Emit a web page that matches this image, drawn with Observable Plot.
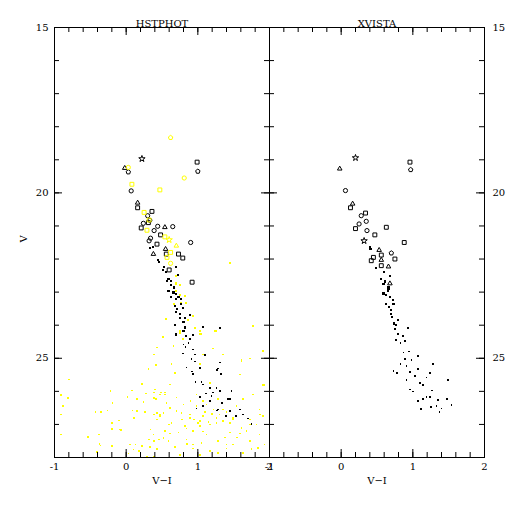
<!DOCTYPE html>
<html>
<head>
<meta charset="utf-8">
<script src="https://cdn.jsdelivr.net/npm/d3@7"></script>
<script src="https://cdn.jsdelivr.net/npm/@observablehq/plot@0.6"></script>
<style>
  body { margin: 0; background: white; }
  #wrap { position: relative; width: 512px; height: 512px; overflow: hidden; background: white; }
  #left, #right { position: absolute; top: 0; }
  #left { left: 0; }
  #right { left: 268px; }
</style>
</head>
<body>
<div id="wrap"><div id="left"></div><div id="right"></div></div>
<script>
// ---- data: [V-I, V, shape] (o circle, s square, t triangle, * star, p pentagon)
const panelTitles = ["HSTPHOT", "XVISTA"];
const xLabel = "V−I";
const yLabel = "V";
const xTickLabels = [-1, 0, 1, 2];
const yTickLabels = [15, 20, 25];

const hstBlackSymbols = [
  [0.22,18.97,"*"],[0.99,19.07,"s"],[1.00,19.35,"p"],[-0.02,19.25,"t"],[0.03,19.37,"p"],
  [0.07,19.94,"o"],[0.16,20.30,"t"],[0.16,20.45,"s"],[0.36,20.56,"s"],[0.30,20.69,"o"],
  [0.33,20.83,"o"],[0.24,20.92,"o"],[0.31,20.90,"s"],[0.21,21.06,"s"],[0.44,21.01,"o"],
  [0.54,21.04,"t"],[0.65,21.02,"o"],[0.39,21.14,"o"],[0.34,21.37,"o"],[0.32,21.45,"o"],
  [0.48,21.27,"s"],[0.90,21.50,"o"],[0.55,21.70,"t"],[0.43,21.55,"s"],[0.38,21.85,"t"],
  [0.56,21.85,"s"],[0.73,21.85,"s"],[0.79,21.97,"s"],[0.60,22.33,"s"],[0.92,22.70,"s"]
];
const hstYellowSymbols = [
  [0.62,18.33,"p"],[0.03,19.23,"o"],[0.81,19.55,"o"],[0.08,19.74,"s"],[0.47,19.91,"s"],
  [0.25,20.59,"s"],[0.32,20.82,"s"],[0.29,21.13,"s"],[0.54,21.33,"s"],[0.60,21.42,"*"],
  [0.70,21.60,"t"],[0.62,21.80,"s"],[0.57,21.95,"s"],[0.62,22.13,"o"]
];
const hstBlackDots = [
  [0.33,21.67],[0.37,21.63],[0.45,22.03],[0.46,22.10],[0.53,22.23],[0.69,22.23],[0.52,22.33],
  [0.56,22.40],[0.72,22.48],[0.59,22.61],[0.57,22.66],[0.63,22.66],[0.62,22.78],[0.67,22.86],
  [0.66,23.01],[0.70,23.06],[0.59,22.96],[0.62,23.16],[0.73,23.14],[0.76,23.21],[0.69,23.21],
  [0.68,23.42],[0.79,23.47],[0.77,23.36],[0.71,23.52],[0.70,23.59],[0.75,23.67],[0.89,23.70],
  [0.82,23.77],[0.75,23.79],[0.80,23.90],[0.68,24.00],[0.82,24.07],[0.80,24.17],[0.69,24.28],
  [0.84,24.32],[1.07,24.06],[1.31,24.09],[0.89,24.42],[0.93,24.29],[0.87,24.53],[0.80,24.58],
  [0.83,24.66],[0.93,24.73],[0.79,24.85],[0.96,24.88],[1.10,24.90],[0.91,25.02],[0.96,25.10],
  [0.84,25.28],[1.03,25.30],[1.31,25.13],[0.92,25.40],[0.93,25.47],[1.27,25.36],[1.32,25.47],
  [1.28,25.31],[0.97,25.71],[1.05,25.71],[1.07,25.79],[1.17,25.89],[1.26,25.89],[1.31,25.99],
  [1.21,26.04],[1.11,26.07],[1.47,25.99],[1.19,26.14],[1.03,26.17],[1.42,26.24],[1.45,26.24],
  [1.17,26.29],[1.07,26.45],[1.34,26.35],[0.98,26.52],[1.28,26.55],[1.27,26.58],[1.45,26.60],
  [1.59,26.55],[1.39,26.75],[1.53,26.75],[1.63,26.70],[1.70,26.82],[1.75,26.98]
];
const hstYellowDots = [
  [0.69,22.51],[0.69,22.74],[0.75,22.78],[0.70,22.96],[0.75,23.08],[0.82,23.11],[0.67,23.35],
  [0.77,23.32],[0.83,23.32],[0.79,23.47],[0.93,23.72],[0.56,23.80],[0.86,23.85],[0.75,24.19],
  [0.96,24.09],[1.03,24.17],[1.25,24.17],[0.51,24.35],[0.79,24.42],[1.05,24.27],[1.45,22.13],
  [1.77,24.02],[1.91,24.78],[1.91,25.81],[0.39,24.88],[0.31,25.33],[0.22,25.77],
  [0.43,24.68],[0.42,25.20],[-0.80,25.64],[-0.91,26.11],[-0.81,26.21],[-0.22,25.99],[0.08,25.97],
  [0.28,26.07],[0.39,26.04],[0.02,26.17],[0.15,26.24],[0.39,26.21],[0.47,26.09],[-0.19,26.36],
  [0.24,26.32],[-0.88,26.45],[-0.43,26.62],[-0.26,26.58],[0.09,26.58],[0.15,26.60],[0.26,26.62],
  [0.43,26.65],[-0.91,26.70],[-0.35,26.63],[0.11,26.80],[0.39,26.70],[0.47,26.75],[0.43,26.85],
  [-0.20,26.96],[-0.10,26.88],[-0.07,27.17],[-0.20,27.13],[-0.91,27.30],[-0.38,27.30],[-0.53,27.38],
  [0.34,27.15],[0.38,27.30],[0.32,27.45],[0.39,27.51],[0.46,27.45],[-0.36,27.64],[-0.20,27.66],
  [0.05,27.61],[0.13,27.61],[0.22,27.66],[0.33,27.68],[0.43,27.74],[0.10,27.76],[0.18,27.81],
  [-0.41,27.84],[0.29,27.98],[0.39,27.98],[0.03,27.88],
  [0.75,24.22],[1.03,24.27],[0.66,24.63],[1.21,24.70],[1.35,24.88],[0.63,25.18],[1.03,25.18],
  [1.61,25.06],[1.73,25.01],[0.68,25.44],[1.59,25.49],[1.17,25.74],[0.61,25.79],[1.93,25.79],
  [0.49,26.04],[0.54,26.04],[0.70,26.19],[0.98,26.09],[1.07,26.29],[1.28,26.24],[1.63,26.24],
  [1.77,26.09],[0.56,26.35],[0.80,26.40],[0.98,26.45],[1.54,26.45],[1.86,26.55],[0.52,26.65],
  [0.70,26.60],[0.89,26.70],[1.07,26.75],[1.26,26.80],[1.35,26.90],[1.49,26.80],[1.73,26.85],
  [1.91,26.75],[0.63,26.95],[0.82,27.05],[1.03,27.05],[1.17,27.00],[1.61,27.10],[1.82,27.00],
  [0.54,27.20],[0.73,27.25],[0.93,27.20],[1.12,27.30],[1.45,27.25],[1.68,27.20],[1.86,27.30],
  [0.59,27.51],[0.84,27.45],[1.05,27.56],[1.28,27.51],[1.49,27.61],[1.73,27.51],[1.93,27.61],
  [0.68,27.68],[0.93,27.73],[1.17,27.81],[1.40,27.73],[1.63,27.86],[1.84,27.71],[0.75,27.92],
  [1.03,27.93],[1.28,27.86],[1.10,26.62],[1.20,26.68],[1.30,26.70],[1.40,26.62],[1.15,26.92],
  [1.22,26.55],[1.45,26.95],[0.95,26.85],[1.00,26.95],[1.38,27.40],[0.85,27.60],[0.60,27.00],
  [0.78,26.85],[-0.09,27.15],[-0.37,27.60],
  [0.40,25.94],[0.42,26.24],[0.54,26.09],[0.61,26.50],[0.47,26.70],[0.77,26.65],[0.89,26.80],
  [1.03,26.90],[1.26,26.95],[1.49,26.85],[1.73,27.00],[1.87,26.70],[0.84,27.12],[1.07,27.22],
  [0.61,27.27],[1.59,27.27],[1.40,27.61],[0.93,27.61],[0.52,27.41],[1.93,25.80],[1.61,25.08],
  [1.24,24.17],[1.07,24.88],[1.35,26.55],[1.12,26.40],[0.90,26.30],[1.55,27.40],[1.75,27.75]
];

const xvBlackSymbols = [
  [0.20,18.94,"*"],[0.96,19.07,"s"],[0.97,19.30,"p"],[-0.02,19.27,"t"],[0.06,19.93,"o"],
  [0.16,20.33,"t"],[0.13,20.45,"s"],[0.34,20.61,"s"],[0.28,20.69,"o"],[0.35,20.86,"o"],
  [0.25,20.94,"o"],[0.20,21.08,"s"],[0.36,21.14,"o"],[0.63,21.04,"s"],[0.47,21.27,"s"],
  [0.32,21.45,"*"],[0.88,21.50,"s"],[0.53,21.73,"t"],[0.70,21.82,"p"],[0.56,21.88,"s"],
  [0.75,22.00,"s"],[0.45,21.95,"s"],[0.42,22.05,"s"],[0.56,22.03,"t"],[0.56,22.20,"s"],
  [0.66,22.23,"t"],[0.68,22.74,"t"]
];
const xvBlackDots = [
  [0.40,21.63],[0.41,21.70],[0.49,22.27],[0.60,22.38],[0.68,22.51],[0.56,22.61],[0.61,22.68],
  [0.66,22.84],[0.59,22.76],[0.66,22.91],[0.59,23.04],[0.68,23.16],[0.63,23.36],[0.73,23.35],
  [0.70,23.55],[0.69,23.67],[0.79,23.85],[0.75,24.12],[0.79,24.27],[0.86,24.32],[0.76,24.45],
  [0.83,24.53],[0.89,24.48],[0.93,24.09],[0.87,24.83],[0.95,24.80],[1.07,24.93],[0.89,25.03],
  [0.98,25.06],[0.83,25.18],[0.91,25.23],[1.07,25.33],[1.28,25.18],[0.73,25.38],[0.78,25.44],
  [0.96,25.41],[1.03,25.54],[1.24,25.44],[1.19,25.58],[0.91,25.66],[1.10,25.74],[1.14,25.81],
  [1.49,25.66],[0.96,25.94],[1.00,26.01],[1.27,25.97],[1.19,26.17],[1.24,26.17],[1.14,26.24],
  [1.35,26.26],[1.48,26.24],[1.07,26.29],[1.33,26.44],[1.54,26.41],[1.11,26.53],[1.25,26.48],
  [1.40,26.52],[1.37,26.62],[0.65,22.95],[0.72,23.25],[0.62,23.10],[0.67,23.45],[0.71,23.75],
  [0.74,23.95],[0.77,24.00]
];

// ---- drawing
const pentagon = {
  draw(ctx, size) {
    const r = Math.sqrt(size / Math.PI) * 1.1;
    for (let i = 0; i < 5; i++) {
      const a = -Math.PI / 2 + i * 2 * Math.PI / 5;
      const px = r * Math.cos(a), py = r * Math.sin(a);
      if (i) ctx.lineTo(px, py); else ctx.moveTo(px, py);
    }
    ctx.closePath();
  }
};
const shapes = [
  ["o", "circle", 2.1], ["s", "square", 2.2], ["t", "triangle", 1.7],
  ["*", "star", 2.0], ["p", pentagon, 2.1]
];
function symbolMarks(data, color) {
  return shapes.map(([k, sym, r]) =>
    Plot.dot(data.filter(d => d[2] === k), {
      x: d => d[0], y: d => d[1], symbol: sym, r, stroke: color, strokeWidth: 1, fill: "none"
    }));
}
function dotMarks(data, color) {
  return [
    Plot.dot(data.filter(d => d[1] < 24.5), {
      x: d => d[0], y: d => d[1], symbol: "square", fill: color, stroke: "none", r: 1.2,
      shapeRendering: "crispEdges"
    }),
    Plot.dot(data.filter(d => d[1] >= 24.5), {
      x: d => d[0], y: d => d[1], symbol: "square", fill: color, stroke: "none", r: 0.9,
      shapeRendering: "crispEdges"
    })
  ];
}

const H = 512, MT = 27, MB = 55, FW = 215, FH = H - MT - MB;
const xMinor = d3.range(0, 16).map(i => -1 + i * 0.2);
const yMinor = d3.range(15, 29);

function panel({title, side, blackSym, yellowSym, blackDots, yellowDots}) {
  const isLeft = side === "left";
  const marks = [
    ...(yellowDots ? dotMarks(yellowDots, "#ffff00") : []),
    ...dotMarks(blackDots, "black"),
    ...symbolMarks(blackSym, "black"),
    ...(yellowSym ? symbolMarks(yellowSym, "#ffff00") : []),
    Plot.frame({stroke: "black", strokeWidth: 1}),
    Plot.tickX(xMinor, {x: d => d, insetBottom: FH - 5, stroke: "black"}),
    Plot.tickX(xMinor, {x: d => d, insetTop: FH - 5, stroke: "black"}),
    Plot.tickX(xTickLabels, {x: d => d, insetBottom: FH - 8, stroke: "black"}),
    Plot.tickX(xTickLabels, {x: d => d, insetTop: FH - 8, stroke: "black"}),
    Plot.tickY(yMinor, {y: d => d, insetRight: FW - 5, stroke: "black"}),
    Plot.tickY(yMinor, {y: d => d, insetLeft: FW - 5, stroke: "black"}),
    Plot.tickY(yTickLabels, {y: d => d, insetRight: FW - 8, stroke: "black"}),
    Plot.tickY(yTickLabels, {y: d => d, insetLeft: FW - 8, stroke: "black"}),
    Plot.axisX({ticks: xTickLabels, tickSize: 0, tickPadding: 5, label: null, tickFormat: d => String(d)}),
    Plot.axisY({anchor: side, ticks: yTickLabels, tickSize: 0, tickPadding: isLeft ? 6 : 8, label: null, tickFormat: d => String(d)}),
    Plot.text([title], {text: d => d, frameAnchor: "top", dy: -4, lineAnchor: "middle", fill: "black"}),
    Plot.text([xLabel], {text: d => d, frameAnchor: "bottom", dy: 23, lineAnchor: "middle", fill: "black"})
  ];
  if (isLeft) marks.push(Plot.text([yLabel], {text: d => d, frameAnchor: "left", dx: -31, rotate: -90, fill: "black"}));
  return Plot.plot({
    width: isLeft ? 270 : 244,
    height: H,
    marginTop: MT, marginBottom: MB,
    marginLeft: isLeft ? 54 : 1,
    marginRight: isLeft ? 1 : 28,
    x: {domain: [-1, 2], axis: null},
    y: {domain: [15, 28], reverse: true, axis: null},
    style: {fontFamily: "DejaVu Serif", fontSize: "10px", background: "transparent", overflow: "visible", color: "black"},
    marks
  });
}

document.getElementById("left").append(panel({
  title: panelTitles[0], side: "left",
  blackSym: hstBlackSymbols, yellowSym: hstYellowSymbols,
  blackDots: hstBlackDots, yellowDots: hstYellowDots
}));
document.getElementById("right").append(panel({
  title: panelTitles[1], side: "right",
  blackSym: xvBlackSymbols, blackDots: xvBlackDots
}));
</script>
</body>
</html>
